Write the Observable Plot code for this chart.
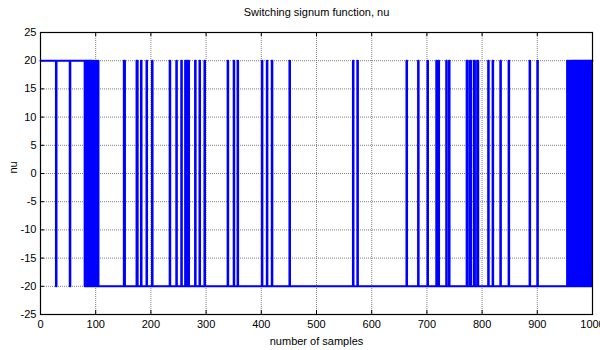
<!DOCTYPE html>
<html><head><meta charset="utf-8">
<script src="https://cdn.jsdelivr.net/npm/d3@7"></script>
<script src="https://cdn.jsdelivr.net/npm/@observablehq/plot@0.6"></script>
<style>body{margin:0;background:#fff}</style>
</head><body><div id="chart"></div>
<script>
const title = "Switching signum function, nu";
const xLabel = "number of samples";
const yLabel = "nu";
const xTicks = [0, 100, 200, 300, 400, 500, 600, 700, 800, 900, 1000];
const yTicks = [-25, -20, -15, -10, -5, 0, 5, 10, 15, 20, 25];
const startLevel = 20;
const lastSample = 1000;
// sample indices at which nu flips sign (+20 <-> -20)
const switchSamples = [
  28, 29, 53, 54,
  80, 81, 82, 83, 84, 85, 86, 87, 88, 89, 90, 91, 92, 93, 94,
  96, 97, 100, 101, 104, 105,
  151, 153, 174, 176, 182, 183, 192, 193, 202, 203,
  234, 235, 246, 247, 255, 256, 262, 263, 265, 266, 268, 269,
  280, 281, 288, 289, 297, 298, 339, 340, 350, 351, 357, 358,
  401, 402, 410, 411, 419, 420, 451, 452, 566, 567, 574, 575,
  663, 664, 684, 685, 701, 702, 717, 718, 721, 722, 735, 736, 740, 741,
  772, 774, 778, 780, 785, 787, 791, 793, 811, 812, 819, 820,
  833, 834, 848, 849, 886, 887, 900, 901,
  954, 955, 957, 958, 960, 961,
  963, 964, 965, 966, 967, 968, 969, 970, 971, 972, 973, 974, 975, 976, 977, 978,
  979, 980, 981, 982, 983, 984, 985, 986, 987, 988, 989, 990, 991, 992, 993, 994,
  995, 996, 997, 998, 999
];

const points = [];
let level = startLevel;
points.push({t: 0, v: level});
for (const s of switchSamples) { level = -level; points.push({t: s, v: level}); }
points.push({t: lastSample, v: level});

const W = 600, H = 350, mt = 32, mb = 36, ml = 40, mr = 8;
const frameH = H - mt - mb, frameW = W - ml - mr;
const tickLen = 4;
const font = "'Liberation Sans', Arial, sans-serif";

const chart = Plot.plot({
  width: W, height: H,
  marginTop: mt, marginBottom: mb, marginLeft: ml, marginRight: mr,
  style: {fontFamily: font, fontSize: "11px", background: "white", color: "black"},
  x: {domain: [0, 1000], label: null},
  y: {domain: [-25, 25], label: null},
  marks: [
    Plot.gridX(xTicks, {stroke: "#808080", strokeOpacity: 1, strokeDasharray: "1,1"}),
    Plot.gridY(yTicks, {stroke: "#808080", strokeOpacity: 1, strokeDasharray: "1,1"}),
    Plot.axisX(xTicks, {tickSize: 0, tickPadding: 6, fontSize: 11, tickFormat: d => String(d)}),
    Plot.axisY(yTicks, {tickSize: 0, tickPadding: 4, fontSize: 11, tickFormat: d => String(d)}),
    Plot.tickX(xTicks, {x: d => d, insetBottom: frameH - tickLen, stroke: "black"}),
    Plot.tickX(xTicks, {x: d => d, insetTop: frameH - tickLen, stroke: "black"}),
    Plot.tickY(yTicks, {y: d => d, insetRight: frameW - tickLen, stroke: "black"}),
    Plot.tickY(yTicks, {y: d => d, insetLeft: frameW - tickLen, stroke: "black"}),
    Plot.line(points, {x: "t", y: "v", curve: "step-after", stroke: "#0000ff", strokeWidth: 2}),
    Plot.frame({stroke: "black", strokeWidth: 1.2}),
    Plot.text([title], {text: d => d, frameAnchor: "top", lineAnchor: "middle", dy: -20, fontSize: 11}),
    Plot.text([xLabel], {text: d => d, frameAnchor: "bottom", lineAnchor: "middle", dy: 27, fontSize: 11}),
    Plot.text([yLabel], {text: d => d, frameAnchor: "left", lineAnchor: "middle", dx: -27, rotate: -90, fontSize: 11})
  ]
});
document.getElementById("chart").appendChild(chart);
</script>
</body></html>
